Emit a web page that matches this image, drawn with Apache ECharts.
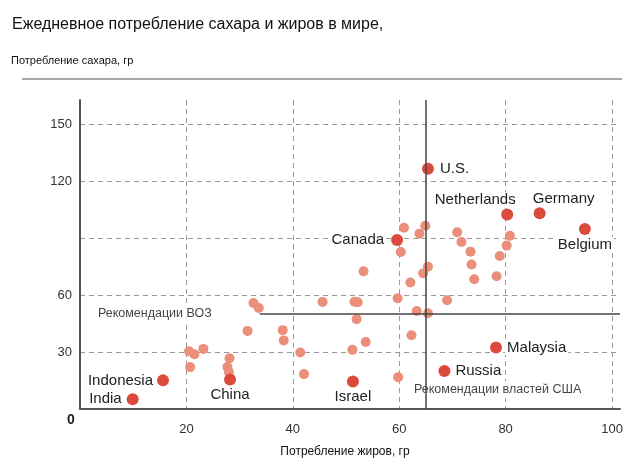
<!DOCTYPE html>
<html><head><meta charset="utf-8">
<script src="https://cdn.jsdelivr.net/npm/echarts@6/dist/echarts.min.js"></script>
<style>html,body{margin:0;padding:0;background:#fff}#c{width:641px;height:471px}</style>
</head><body><div id="c"></div>
<script>
const titleText = 'Ежедневное потребление сахара и жиров в мире,';
const yAxisName = 'Потребление сахара, гр';
const xAxisName = 'Потребление жиров, гр';
const xTickValues = [20, 40, 60, 80, 100];
const yTickValues = [30, 60, 120, 150];

const otherFat   = [60.9,64.9,63.8,70.9,71.7,80.8,60.3,73.4,80.2,78.9,53.3,65.4,64.5,73.6,62.1,74.1,78.3,51.6,52.2,59.7,69.0,63.3,65.4,52.0,62.3,53.7,51.2,59.8,32.6,33.6,45.6,31.5,38.1,38.3,20.5,21.5,23.2,28.1,20.7,27.7,28.0,41.4,42.1];
const otherSugar = [95.6,96.7,92.5,93.2,88.1,91.4,82.8,83.0,86.2,80.7,72.6,75.1,71.6,76.2,66.7,68.4,70.0,56.6,56.3,58.4,57.4,51.7,50.5,47.4,38.9,35.3,31.2,16.8,55.9,53.3,56.5,41.2,41.6,36.2,30.5,28.9,31.7,26.8,22.1,22.1,19.5,29.8,18.4];

const countryNames = ['U.S.','Netherlands','Germany','Belgium','Canada','Malaysia','Russia','Indonesia','India','China','Israel'];
const countryFat   = [65.4, 80.3, 86.4, 94.9, 59.6, 78.2, 68.5, 15.6, 9.9, 28.2, 51.3];
const countrySugar = [126.7, 102.6, 103.2, 95.0, 89.2, 32.5, 20.0, 15.1, 5.1, 15.5, 14.5];

const whoSugarLimit = 50;
const whoLineStartFat = 33.8;
const usFatLimit = 65;
const whoLabel = 'Рекомендации ВОЗ';
const usLabel = 'Рекомендации властей США';
const whoLabelAt = [3.0, 50.2];
const usLabelAt = [62.4, 10.2];

const X_MAX = 101.5, Y_MAX = 163;

const labelPlacement = {
  'U.S.':        {position:'right', distance:4},
  'Netherlands': {position:'top', distance:1, offset:[-32,0]},
  'Germany':     {position:'top', distance:1, offset:[24,0]},
  'Belgium':     {position:'bottom', distance:2},
  'Canada':      {position:'left', distance:5},
  'Malaysia':    {position:'right', distance:3},
  'Russia':      {position:'right', distance:3},
  'Indonesia':   {position:'left', distance:2},
  'India':       {position:'left', distance:3},
  'China':       {position:'bottom', distance:2},
  'Israel':      {position:'bottom', distance:2}
};

const FONT = '"Liberation Sans", Arial, sans-serif';

const otherData = otherFat.map((f, i) => [f, otherSugar[i]]);
const countryData = countryNames.map((n, i) => ({
  name: n,
  value: [countryFat[i], countrySugar[i]],
  label: Object.assign({show:true, formatter:n}, labelPlacement[n])
}));

const chart = echarts.init(document.getElementById('c'), null, {renderer:'canvas'});
chart.setOption({
  animation: false,
  backgroundColor: '#fff',
  title: [
    {text: titleText, left: 7, top: 12, textStyle:{fontFamily:FONT, fontSize:16, fontWeight:'normal', color:'#111'}},
    {text: yAxisName, left: 6, top: 50, textStyle:{fontFamily:FONT, fontSize:11, fontWeight:'normal', color:'#111'}}
  ],
  graphic: [
    {type:'line', shape:{x1:22, y1:79, x2:622, y2:79}, style:{stroke:'#aaa', lineWidth:2}},
    {type:'text', left: 67, top: 413, style:{text:'0', font:'bold 14px ' + FONT, fill:'#222'}}
  ],
  grid: {left: 80, right: 21, top: 100, bottom: 62},
  xAxis: {
    type:'value', min:0, max:X_MAX, interval:20,
    name: xAxisName, nameLocation:'middle', nameGap:37,
    nameTextStyle:{fontFamily:FONT, fontSize:12, color:'#111', padding:[0,10,0,0]},
    axisLine:{show:true, onZero:false, lineStyle:{color:'#555', width:2}},
    axisTick:{show:false},
    axisLabel:{fontFamily:FONT, fontSize:13, color:'#333', margin:14,
      formatter: v => xTickValues.includes(v) ? String(v) : ''},
    splitLine:{show:true, showMinLine:false, showMaxLine:false, lineStyle:{color:'#999', type:[5,4], width:1}}
  },
  yAxis: {
    type:'value', min:0, max:Y_MAX, interval:30,
    axisLine:{show:true, onZero:false, lineStyle:{color:'#555', width:2}},
    axisTick:{show:false},
    axisLabel:{fontFamily:FONT, fontSize:13, color:'#333', margin:8,
      formatter: v => yTickValues.includes(v) ? String(v) : ''},
    splitLine:{show:true, showMinLine:false, showMaxLine:false, lineStyle:{color:'#999', type:[5,4], width:1}}
  },
  series: [
    {
      type:'scatter', z:1, data:[], silent:true,
      markLine:{
        silent:true, symbol:'none', animation:false,
        label:{show:false},
        lineStyle:{color:'#444', width:1.5, type:'solid'},
        data:[
          [{coord:[whoLineStartFat, whoSugarLimit]}, {coord:[X_MAX, whoSugarLimit]}],
          [{coord:[usFatLimit, 0]}, {coord:[usFatLimit, Y_MAX]}]
        ]
      }
    },
    {
      type:'scatter', z:2, symbolSize:10, data: otherData,
      itemStyle:{color:'#EA8F7A', opacity:1}
    },
    {
      type:'scatter', z:3, symbolSize:12, data: countryData,
      itemStyle:{color:'#DC4A3E', opacity:1},
      label:{fontFamily:FONT, fontSize:15, color:'#222', backgroundColor:'#fff', padding:[0,2]}
    },
    {
      type:'scatter', z:4, symbolSize:0,
      data:[
        {value:whoLabelAt, name:whoLabel},
        {value:usLabelAt, name:usLabel}
      ],
      label:{show:true, position:'right', distance:0, formatter:p => p.name,
        fontFamily:FONT, fontSize:12.5, color:'#111', backgroundColor:'#fff', padding:[2,2]}
    }
  ]
});
</script></body></html>
